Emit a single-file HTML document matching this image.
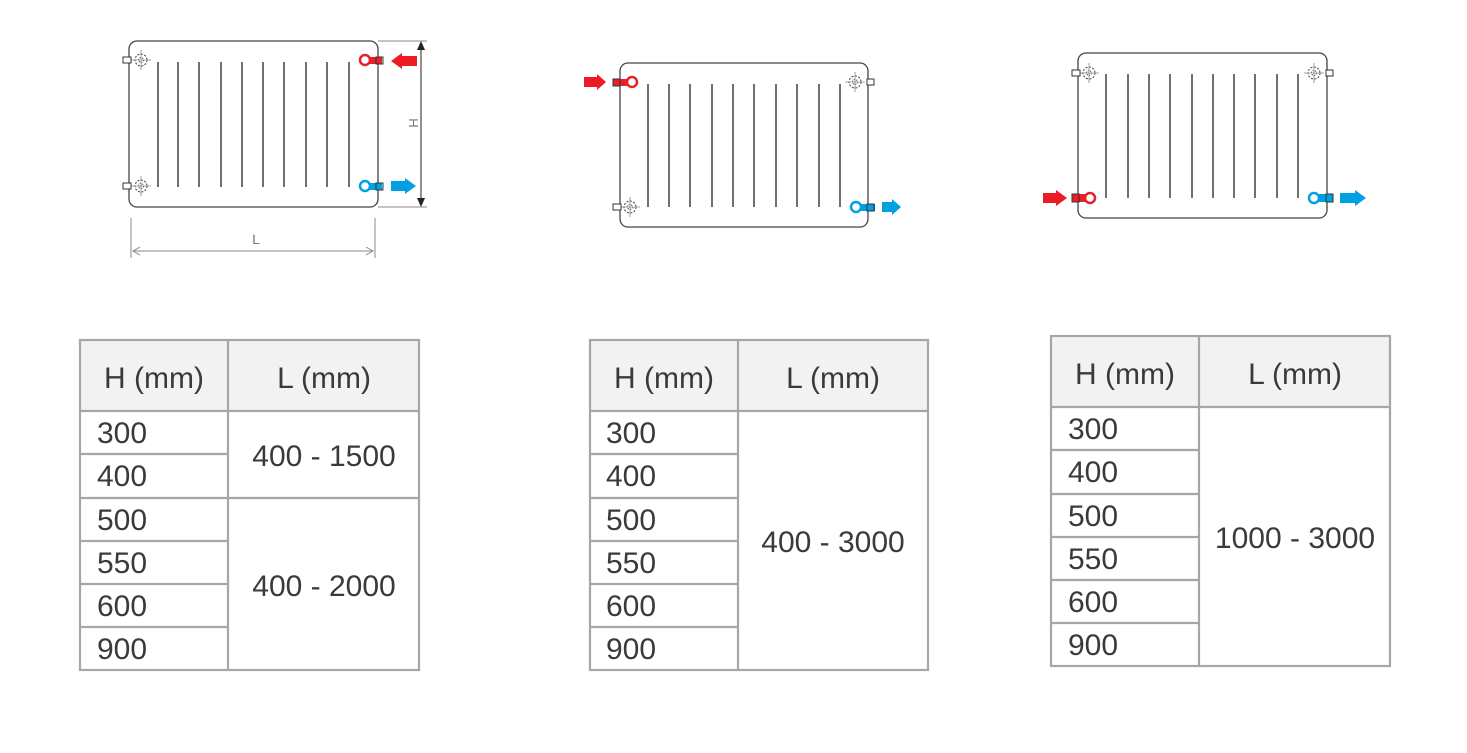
<!DOCTYPE html>
<html><head><meta charset="utf-8"><style>
html,body{margin:0;padding:0;background:#fff;width:1467px;height:753px;overflow:hidden}
svg{display:block}
.t{font-family:"Liberation Sans",sans-serif;font-size:30px;fill:#3a3a3a}
</style></head><body>
<svg width="1467" height="753" viewBox="0 0 1467 753" xmlns="http://www.w3.org/2000/svg">
<defs>
<g id="dv">
 <circle r="6" fill="none" stroke="#444" stroke-width="1" stroke-dasharray="2,1.5"/>
 <circle r="2.5" fill="none" stroke="#444" stroke-width="0.8" stroke-dasharray="1.5,1"/>
 <line x1="-10" y1="0" x2="10" y2="0" stroke="#888" stroke-width="0.8"/>
 <line x1="0" y1="-10" x2="0" y2="10" stroke="#888" stroke-width="0.8"/>
</g>
</defs>

<!-- Radiator 1 -->
<rect x="129" y="41" width="249" height="166" rx="8" fill="none" stroke="#444" stroke-width="1.3"/>
<g stroke="#222" stroke-width="1.3">
<line x1="158" y1="62" x2="158" y2="187"/><line x1="178" y1="62" x2="178" y2="187"/><line x1="199" y1="62" x2="199" y2="187"/><line x1="221" y1="62" x2="221" y2="187"/><line x1="242" y1="62" x2="242" y2="187"/><line x1="263" y1="62" x2="263" y2="187"/><line x1="284" y1="62" x2="284" y2="187"/><line x1="306" y1="62" x2="306" y2="187"/><line x1="327" y1="62" x2="327" y2="187"/><line x1="349" y1="62" x2="349" y2="187"/>
</g>
<use href="#dv" x="141" y="60"/><rect x="123" y="57" width="8" height="6" fill="#fff" stroke="#333"/>
<use href="#dv" x="141" y="186"/><rect x="123" y="183" width="8" height="6" fill="#fff" stroke="#333"/>
<rect x="364" y="57" width="18" height="7" fill="#e8202a"/><rect x="376" y="57" width="7" height="7" fill="none" stroke="#333"/>
<circle cx="365" cy="60" r="5" fill="#fff" stroke="#e8202a" stroke-width="2.5"/>
<polygon points="417,56 402,56 402,53 391,61 402,69 402,66 417,66" fill="#ed1c24"/>
<rect x="364" y="183" width="18" height="7" fill="#00a0e3"/><rect x="376" y="183" width="7" height="7" fill="none" stroke="#333"/>
<circle cx="365" cy="186" r="5" fill="#fff" stroke="#00a0e3" stroke-width="2.5"/>
<polygon points="391,181 405,181 405,178 416,186 405,194 405,191 391,191" fill="#00a0e3"/>
<g stroke="#888" stroke-width="1"><line x1="378" y1="41" x2="427" y2="41"/><line x1="378" y1="207" x2="427" y2="207"/>
<line x1="421" y1="44" x2="421" y2="204" stroke="#222"/>
<line x1="131" y1="218" x2="131" y2="258"/><line x1="375" y1="218" x2="375" y2="258"/><line x1="133" y1="251" x2="373" y2="251"/>
<polyline points="140,247 133,251 140,255" fill="none"/><polyline points="366,247 373,251 366,255" fill="none"/></g>
<polygon points="421,41 417,50 425,50" fill="#222"/><polygon points="421,207 417,198 425,198" fill="#222"/>
<text x="409" y="123" font-family="Liberation Sans,sans-serif" font-size="13" fill="#777" transform="rotate(90 409 123)" text-anchor="middle">H</text>
<text x="256" y="244" font-family="Liberation Sans,sans-serif" font-size="14" fill="#777" text-anchor="middle">L</text>

<!-- Radiator 2 -->
<rect x="620" y="63" width="248" height="164" rx="8" fill="none" stroke="#444" stroke-width="1.3"/>
<g stroke="#222" stroke-width="1.3">
<line x1="648" y1="84" x2="648" y2="207"/><line x1="669" y1="84" x2="669" y2="207"/><line x1="690" y1="84" x2="690" y2="207"/><line x1="712" y1="84" x2="712" y2="207"/><line x1="733" y1="84" x2="733" y2="207"/><line x1="754" y1="84" x2="754" y2="207"/><line x1="776" y1="84" x2="776" y2="207"/><line x1="797" y1="84" x2="797" y2="207"/><line x1="819" y1="84" x2="819" y2="207"/><line x1="840" y1="84" x2="840" y2="207"/>
</g>
<rect x="613" y="79" width="20" height="7" fill="#e8202a"/><rect x="613" y="79" width="7" height="7" fill="none" stroke="#333"/>
<circle cx="632" cy="82" r="5" fill="#fff" stroke="#e8202a" stroke-width="2.5"/>
<polygon points="584,77 597,77 597,74 606,82 597,90 597,87 584,87" fill="#ed1c24"/>
<use href="#dv" x="855" y="82"/><rect x="867" y="79" width="7" height="6" fill="#fff" stroke="#333"/>
<use href="#dv" x="630" y="207"/><rect x="613" y="204" width="8" height="6" fill="#fff" stroke="#333"/>
<rect x="855" y="204" width="20" height="7" fill="#00a0e3"/><rect x="867" y="204" width="7" height="7" fill="none" stroke="#333"/>
<circle cx="856" cy="207" r="5" fill="#fff" stroke="#00a0e3" stroke-width="2.5"/>
<polygon points="882,202 892,202 892,199 901,207 892,215 892,212 882,212" fill="#00a0e3"/>

<!-- Radiator 3 -->
<rect x="1078" y="53" width="249" height="165" rx="8" fill="none" stroke="#444" stroke-width="1.3"/>
<g stroke="#222" stroke-width="1.3">
<line x1="1106" y1="74" x2="1106" y2="198"/><line x1="1128" y1="74" x2="1128" y2="198"/><line x1="1149" y1="74" x2="1149" y2="198"/><line x1="1170" y1="74" x2="1170" y2="198"/><line x1="1192" y1="74" x2="1192" y2="198"/><line x1="1213" y1="74" x2="1213" y2="198"/><line x1="1234" y1="74" x2="1234" y2="198"/><line x1="1255" y1="74" x2="1255" y2="198"/><line x1="1277" y1="74" x2="1277" y2="198"/><line x1="1298" y1="74" x2="1298" y2="198"/>
</g>
<use href="#dv" x="1089" y="73"/><rect x="1072" y="70" width="8" height="6" fill="#fff" stroke="#333"/>
<use href="#dv" x="1314" y="73"/><rect x="1326" y="70" width="7" height="6" fill="#fff" stroke="#333"/>
<rect x="1072" y="194" width="20" height="8" fill="#e8202a"/><rect x="1072" y="194" width="7" height="8" fill="none" stroke="#333"/>
<circle cx="1090" cy="198" r="5" fill="#fff" stroke="#e8202a" stroke-width="2.5"/>
<polygon points="1043,193 1056,193 1056,190 1067,198 1056,206 1056,203 1043,203" fill="#ed1c24"/>
<rect x="1313" y="194" width="20" height="8" fill="#00a0e3"/><rect x="1326" y="194" width="7" height="8" fill="none" stroke="#333"/>
<circle cx="1314" cy="198" r="5" fill="#fff" stroke="#00a0e3" stroke-width="2.5"/>
<polygon points="1340,193 1355,193 1355,190 1366,198 1355,206 1355,203 1340,203" fill="#00a0e3"/>

<!-- Table 1 -->
<g>
<rect x="80" y="340" width="339" height="71" fill="#f2f2f2"/>
<g stroke="#a6a6a6" stroke-width="2.2" fill="none">
<rect x="80" y="340" width="339" height="330"/>
<line x1="228" y1="340" x2="228" y2="670"/><line x1="80" y1="411" x2="419" y2="411"/>
<line x1="80" y1="454" x2="228" y2="454"/><line x1="80" y1="498" x2="419" y2="498"/>
<line x1="80" y1="541" x2="228" y2="541"/><line x1="80" y1="584" x2="228" y2="584"/><line x1="80" y1="627" x2="228" y2="627"/>
</g>
<text class="t" x="154" y="388" text-anchor="middle">H (mm)</text>
<text class="t" x="324" y="388" text-anchor="middle">L (mm)</text>
<text class="t" x="97" y="443">300</text><text class="t" x="97" y="486">400</text><text class="t" x="97" y="530">500</text>
<text class="t" x="97" y="573">550</text><text class="t" x="97" y="616">600</text><text class="t" x="97" y="659">900</text>
<text class="t" x="324" y="466" text-anchor="middle">400 - 1500</text>
<text class="t" x="324" y="596" text-anchor="middle">400 - 2000</text>
</g>

<!-- Table 2 -->
<g>
<rect x="590" y="340" width="338" height="71" fill="#f2f2f2"/>
<g stroke="#a6a6a6" stroke-width="2.2" fill="none">
<rect x="590" y="340" width="338" height="330"/>
<line x1="738" y1="340" x2="738" y2="670"/><line x1="590" y1="411" x2="928" y2="411"/>
<line x1="590" y1="454" x2="738" y2="454"/><line x1="590" y1="498" x2="738" y2="498"/>
<line x1="590" y1="541" x2="738" y2="541"/><line x1="590" y1="584" x2="738" y2="584"/><line x1="590" y1="627" x2="738" y2="627"/>
</g>
<text class="t" x="664" y="388" text-anchor="middle">H (mm)</text>
<text class="t" x="833" y="388" text-anchor="middle">L (mm)</text>
<text class="t" x="606" y="443">300</text><text class="t" x="606" y="486">400</text><text class="t" x="606" y="530">500</text>
<text class="t" x="606" y="573">550</text><text class="t" x="606" y="616">600</text><text class="t" x="606" y="659">900</text>
<text class="t" x="833" y="552" text-anchor="middle">400 - 3000</text>
</g>

<!-- Table 3 -->
<g>
<rect x="1051" y="336" width="339" height="71" fill="#f2f2f2"/>
<g stroke="#a6a6a6" stroke-width="2.2" fill="none">
<rect x="1051" y="336" width="339" height="330"/>
<line x1="1199" y1="336" x2="1199" y2="666"/><line x1="1051" y1="407" x2="1390" y2="407"/>
<line x1="1051" y1="450" x2="1199" y2="450"/><line x1="1051" y1="494" x2="1199" y2="494"/>
<line x1="1051" y1="537" x2="1199" y2="537"/><line x1="1051" y1="580" x2="1199" y2="580"/><line x1="1051" y1="623" x2="1199" y2="623"/>
</g>
<text class="t" x="1125" y="384" text-anchor="middle">H (mm)</text>
<text class="t" x="1295" y="384" text-anchor="middle">L (mm)</text>
<text class="t" x="1068" y="439">300</text><text class="t" x="1068" y="482">400</text><text class="t" x="1068" y="526">500</text>
<text class="t" x="1068" y="569">550</text><text class="t" x="1068" y="612">600</text><text class="t" x="1068" y="655">900</text>
<text class="t" x="1295" y="548" text-anchor="middle">1000 - 3000</text>
</g>
</svg>
</body></html>
